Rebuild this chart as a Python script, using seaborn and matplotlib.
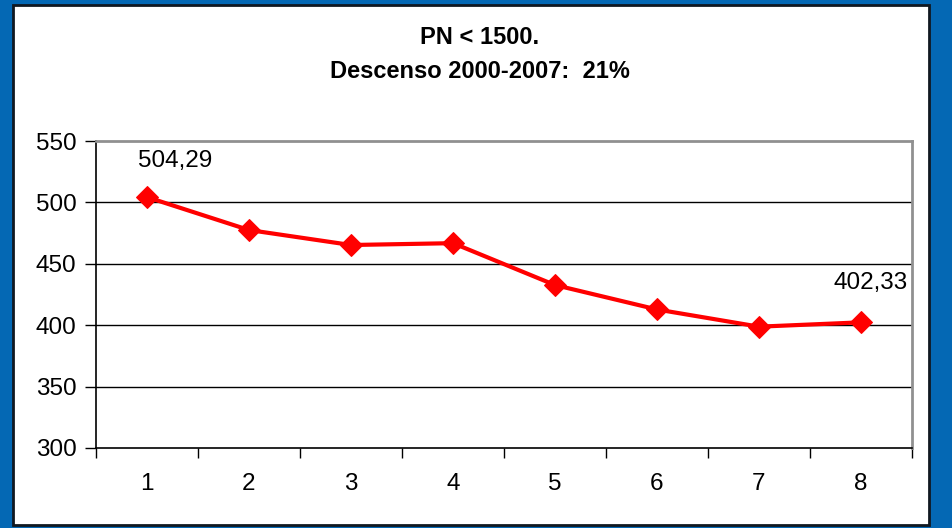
import matplotlib
matplotlib.use("Agg")
import matplotlib.pyplot as plt
import seaborn as sns
import pandas as pd
from matplotlib.patches import Rectangle
from matplotlib.ticker import FixedLocator

categories = [1, 2, 3, 4, 5, 6, 7, 8]
values = [504.29, 477.5, 465.3, 466.8, 432.7, 412.8, 398.8, 402.33]
y_ticks = [300, 350, 400, 450, 500, 550]
title_lines = ["PN < 1500.", "Descenso 2000-2007:  21%"]
labelled = {0: "504,29", 7: "402,33"}

sns.set_theme(style="white")
plt.rcParams['font.family'] = ['Liberation Sans', 'DejaVu Sans']
plt.rcParams['text.color'] = 'black'
plt.rcParams['xtick.color'] = 'black'
plt.rcParams['ytick.color'] = 'black'

FS = 17.5
W, H = 952, 528
fig = plt.figure(figsize=(W / 100, H / 100), dpi=100)
fig.patch.set_facecolor("#0468b4")
# white chart panel with dark frame
panel = Rectangle((13 / W, 1 - 525 / H), (929 - 13) / W, (525 - 5) / H,
                  transform=fig.transFigure, facecolor="white",
                  edgecolor="#111820", linewidth=2, zorder=-10)
fig.patches.append(panel)

ax = fig.add_axes([96 / W, 1 - 448 / H, (912 - 96) / W, (448 - 141) / H])
ax.set_zorder(5)
ax.set_facecolor("white")

df = pd.DataFrame({"x": categories, "y": values})
sns.lineplot(data=df, x="x", y="y", ax=ax, color="#ff0000", linewidth=3,
             marker="D", markersize=11, markeredgecolor="#ff0000", zorder=5)

ax.set_xlim(0.5, 8.5)
ax.set_ylim(300, 550)
ax.set_yticks(y_ticks)
ax.set_yticklabels([str(t) for t in y_ticks], fontsize=FS)
for t in y_ticks[1:-1]:
    ax.axhline(t, color="black", linewidth=1, zorder=1)

ax.xaxis.set_major_locator(FixedLocator([c - 0.5 for c in categories] + [categories[-1] + 0.5]))
ax.xaxis.set_minor_locator(FixedLocator(categories))
ax.set_xticklabels([])
ax.set_xticklabels([str(c) for c in categories], minor=True, fontsize=FS)
ax.tick_params(axis="x", which="major", length=7, width=1, color="black", direction="out", bottom=True)
ax.tick_params(axis="x", which="minor", length=0, pad=18, bottom=True)
ax.tick_params(axis="y", length=8, width=1, color="black", direction="out", left=True, pad=6)
ax.set_xlabel("")
ax.set_ylabel("")

for s in ["left", "bottom"]:
    ax.spines[s].set_color("black")
    ax.spines[s].set_linewidth(1.2)
for s in ["top", "right"]:
    ax.spines[s].set_color("#909090")
    ax.spines[s].set_linewidth(2)

ax.annotate(labelled[0], (categories[0], values[0]), xytext=(20, 26), textcoords="offset points",
            ha="center", va="center", fontsize=FS)
ax.annotate(labelled[7], (categories[7], values[7]), xytext=(7, 28), textcoords="offset points",
            ha="center", va="center", fontsize=FS)

fig.text(480 / W, 1 - 38 / H, title_lines[0], ha="center", va="center", fontsize=17, fontweight="bold")
fig.text(480 / W, 1 - 72 / H, title_lines[1], ha="center", va="center", fontsize=17, fontweight="bold")

fig.savefig("out.png", dpi=100, facecolor=fig.get_facecolor())
